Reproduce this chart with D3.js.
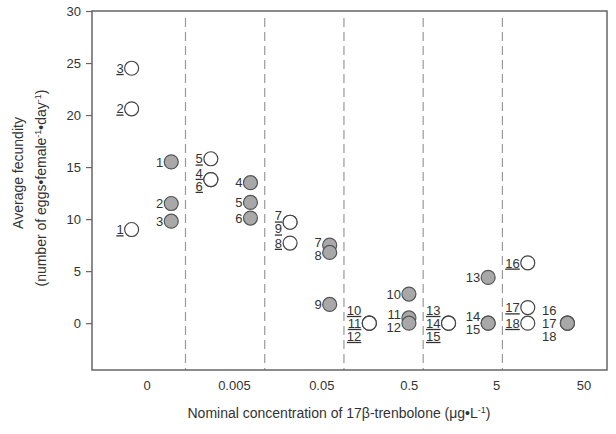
<!DOCTYPE html>
<html>
<head>
<meta charset="utf-8">
<script src="https://cdn.jsdelivr.net/npm/d3@7"></script>
<style>
  body { margin: 0; background: #fff; }
  text { font-family: Arial, "Liberation Sans", sans-serif; fill: #333; }
</style>
</head>
<body>
<svg id="chart" width="616" height="434"></svg>
<script>
// nominal concentrations (ug/L) and tank numbers per group
const concentrations = ["0", "0.005", "0.05", "0.5", "5", "50"];
const tankIds = [[1, 2, 3], [4, 5, 6], [7, 8, 9], [10, 11, 12], [13, 14, 15], [16, 17, 18]];
// pre-exposure (open, underlined) and exposure (filled) fecundity
const controlFecundity = [[9.0, 20.6, 24.5], [13.8, 15.8, 13.8], [9.7, 7.7, 9.7], [0, 0, 0], [0, 0, 0], [5.8, 1.5, 0]];
const exposedFecundity = [[15.5, 11.5, 9.8], [13.5, 11.6, 10.1], [7.5, 6.8, 1.8], [2.8, 0.5, 0], [4.4, 0, 0], [0, 0, 0]];
const yTicks = [0, 5, 10, 15, 20, 25, 30];

const svg = d3.select("#chart");
const plotLeft = 92, plotRight = 607, plotTop = 11, plotBottom = 370;
const r = 7;

// x is in "group" units: control at g, exposed at g + 0.5
const x = d3.scaleLinear().domain([-0.5, 6]).range([plotLeft, plotRight]);
const y = d3.scaleLinear().domain([-4.5, 30]).range([plotBottom, plotTop]);
// category labels sit on their own evenly spaced positions
const xLabel = d3.scalePoint().domain(concentrations).range([147, 584]);

// build points
const points = [];
concentrations.forEach((c, g) => {
    tankIds[g].forEach((id, i) => {
        points.push({ g: g, id: id, value: controlFecundity[g][i], control: true });
        points.push({ g: g, id: id, value: exposedFecundity[g][i], control: false });
    });
});
points.forEach(p => {
    p.cx = x(p.g + (p.control ? 0 : 0.5));
    p.cy = y(p.value);
});

// dashed separators between groups
svg.append("g")
    .selectAll("line")
    .data(d3.range(5))
    .enter()
    .append("line")
        .attr("x1", d => x(d + 0.68))
        .attr("x2", d => x(d + 0.68))
        .attr("y1", plotTop + 7)
        .attr("y2", plotBottom)
        .attr("stroke", "#999")
        .attr("stroke-width", 1.2)
        .attr("stroke-dasharray", "9,5");

// frame
svg.append("rect")
    .attr("x", plotLeft).attr("y", plotTop)
    .attr("width", plotRight - plotLeft).attr("height", plotBottom - plotTop)
    .attr("fill", "none")
    .attr("stroke", "#666")
    .attr("stroke-width", 1.5);

// y axis
const yAxis = svg.append("g")
    .attr("transform", `translate(${plotLeft},0)`)
    .call(d3.axisLeft(y).tickValues(yTicks).tickSize(6).tickPadding(5));
yAxis.select(".domain").remove();
yAxis.selectAll("line").attr("stroke", "#666").attr("stroke-width", 1.2);
yAxis.selectAll("text").attr("font-size", 13).attr("fill", "#333")
    .style("font-family", "Arial, 'Liberation Sans', sans-serif");

// x category labels
svg.append("g")
    .selectAll("text")
    .data(concentrations)
    .enter()
    .append("text")
        .attr("x", d => xLabel(d))
        .attr("y", 390)
        .attr("text-anchor", "middle")
        .attr("font-size", 13)
        .text(d => d);

// circles
svg.append("g")
    .selectAll("circle")
    .data(points)
    .enter()
    .append("circle")
        .attr("cx", d => d.cx)
        .attr("cy", d => d.cy)
        .attr("r", r)
        .attr("fill", d => d.control ? "#fff" : "#a8a8a8")
        .attr("stroke", d => d.control ? "#444" : "#555")
        .attr("stroke-width", 1.2);

// point labels: stack labels of circles that sit close together
const labels = [];
concentrations.forEach((c, g) => {
    [true, false].forEach(ctrl => {
        const col = points.filter(p => p.g == g && p.control == ctrl)
            .sort((a, b) => a.cy - b.cy || a.id - b.id);
        let clusters = [];
        col.forEach(p => {
            const last = clusters[clusters.length - 1];
            if (last && p.cy - last[last.length - 1].cy < 12) last.push(p);
            else clusters.push([p]);
        });
        clusters.forEach(cl => {
            cl.sort((a, b) => a.id - b.id);
            const mid = d3.mean(cl, p => p.cy);
            const gap = (cl.length == 3 && !ctrl) ? 4 : 1;
            cl.forEach((p, i) => {
                labels.push({
                    id: p.id, control: ctrl,
                    x: p.cx - r - gap,
                    y: mid + (i - (cl.length - 1) / 2) * 13
                });
            });
        });
    });
});

svg.append("g")
    .selectAll("text")
    .data(labels)
    .enter()
    .append("text")
        .attr("x", d => d.x)
        .attr("y", d => d.y)
        .attr("dy", "0.36em")
        .attr("text-anchor", "end")
        .attr("font-size", 13)
        .attr("text-decoration", d => d.control ? "underline" : null)
        .text(d => d.id);

// y title
svg.append("text")
    .attr("transform", "translate(23,173) rotate(-90)")
    .attr("text-anchor", "middle")
    .attr("font-size", 14)
    .attr("fill", "#222")
    .text("Average fecundity");

const yt2 = svg.append("text")
    .attr("transform", "translate(46,188) rotate(-90)")
    .attr("text-anchor", "middle")
    .attr("font-size", 14)
    .attr("fill", "#222");
yt2.append("tspan").text("(number of eggs\u2022female");
yt2.append("tspan").attr("dy", -5).attr("font-size", 9).text("-1");
yt2.append("tspan").attr("dy", 5).text("\u2022day");
yt2.append("tspan").attr("dy", -5).attr("font-size", 9).text("-1");
yt2.append("tspan").attr("dy", 5).text(")");

// x title
const xt = svg.append("text")
    .attr("x", 339)
    .attr("y", 418)
    .attr("text-anchor", "middle")
    .attr("font-size", 14)
    .attr("fill", "#222");
xt.append("tspan").text("Nominal concentration of 17\u03b2-trenbolone (\u03bcg\u2022L");
xt.append("tspan").attr("dy", -5).attr("font-size", 9).text("-1");
xt.append("tspan").attr("dy", 5).text(")");
</script>
</body>
</html>
